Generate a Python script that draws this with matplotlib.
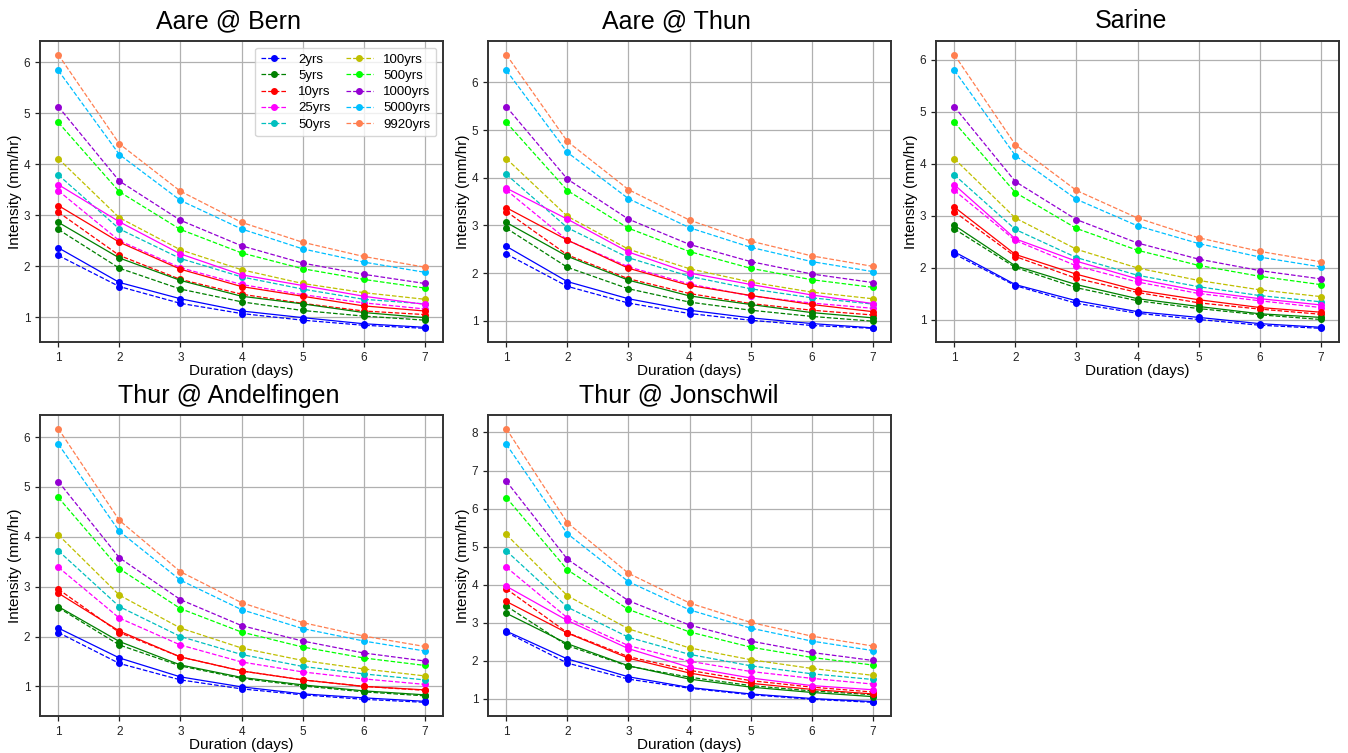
import matplotlib
matplotlib.use("Agg")
import matplotlib.pyplot as plt
import numpy as np

plt.rcParams['font.family'] = ['Liberation Sans', 'DejaVu Sans']

durations = [1, 2, 3, 4, 5, 6, 7]
periods = ["2yrs", "5yrs", "10yrs", "25yrs", "50yrs", "100yrs", "500yrs", "1000yrs", "5000yrs", "9920yrs"]
colors = ["blue", "green", "red", "magenta", "c", "y", "lime", "darkviolet", "deepskyblue", "coral"]
stations = ["Aare @ Bern", "Aare @ Thun", "Sarine", "Thur @ Andelfingen", "Thur @ Jonschwil"]

# dashed series (fitted), per station, per return period
bern_dashed = [
    [2.21, 1.60, 1.27, 1.07, 0.94, 0.84, 0.78],
    [2.72, 1.96, 1.55, 1.30, 1.13, 1.02, 0.94],
    [3.06, 2.21, 1.74, 1.45, 1.27, 1.12, 1.05],
    [3.48, 2.50, 1.97, 1.64, 1.44, 1.28, 1.16],
    [3.79, 2.73, 2.15, 1.79, 1.55, 1.35, 1.26],
    [4.11, 2.95, 2.32, 1.93, 1.66, 1.48, 1.35],
    [4.82, 3.46, 2.72, 2.26, 1.95, 1.74, 1.57],
    [5.13, 3.67, 2.90, 2.40, 2.06, 1.84, 1.66],
    [5.84, 4.19, 3.29, 2.73, 2.34, 2.08, 1.88],
    [6.15, 4.40, 3.47, 2.86, 2.47, 2.19, 1.98],
]
thun_dashed = [
    [2.40, 1.72, 1.37, 1.15, 1.01, 0.90, 0.84],
    [2.94, 2.12, 1.67, 1.39, 1.22, 1.09, 0.99],
    [3.29, 2.38, 1.88, 1.57, 1.36, 1.22, 1.12],
    [3.74, 2.69, 2.13, 1.77, 1.52, 1.37, 1.26],
    [4.07, 2.95, 2.32, 1.93, 1.67, 1.48, 1.35],
    [4.40, 3.19, 2.50, 2.09, 1.81, 1.60, 1.46],
    [5.16, 3.73, 2.94, 2.45, 2.10, 1.86, 1.70],
    [5.49, 3.97, 3.13, 2.60, 2.24, 1.98, 1.80],
    [6.25, 4.53, 3.56, 2.95, 2.54, 2.24, 2.03],
    [6.58, 4.76, 3.75, 3.11, 2.67, 2.36, 2.14],
]
sarine_dashed = [
    [2.27, 1.66, 1.32, 1.13, 1.01, 0.90, 0.84],
    [2.75, 2.01, 1.62, 1.37, 1.22, 1.10, 1.01],
    [3.08, 2.22, 1.80, 1.53, 1.33, 1.21, 1.11],
    [3.49, 2.53, 2.04, 1.73, 1.51, 1.37, 1.24],
    [3.79, 2.74, 2.20, 1.86, 1.64, 1.47, 1.35],
    [4.10, 2.96, 2.36, 2.00, 1.76, 1.58, 1.45],
    [4.80, 3.45, 2.76, 2.34, 2.05, 1.84, 1.68],
    [5.10, 3.66, 2.93, 2.48, 2.17, 1.95, 1.79],
    [5.80, 4.16, 3.32, 2.81, 2.47, 2.21, 2.02],
    [6.10, 4.37, 3.49, 2.96, 2.58, 2.32, 2.12],
]
andelfingen_dashed = [
    [2.08, 1.46, 1.13, 0.95, 0.83, 0.74, 0.68],
    [2.58, 1.83, 1.41, 1.16, 1.01, 0.89, 0.81],
    [2.95, 2.08, 1.59, 1.31, 1.13, 1.00, 0.92],
    [3.39, 2.37, 1.83, 1.49, 1.29, 1.15, 1.04],
    [3.72, 2.60, 2.00, 1.64, 1.40, 1.25, 1.13],
    [4.04, 2.83, 2.17, 1.77, 1.52, 1.35, 1.21],
    [4.79, 3.36, 2.56, 2.09, 1.79, 1.57, 1.42],
    [5.11, 3.58, 2.74, 2.22, 1.91, 1.67, 1.51],
    [5.86, 4.11, 3.13, 2.54, 2.16, 1.91, 1.71],
    [6.17, 4.33, 3.30, 2.68, 2.28, 2.01, 1.80],
]
jonschwil_dashed = [
    [2.75, 1.94, 1.52, 1.28, 1.11, 0.99, 0.91],
    [3.44, 2.40, 1.86, 1.57, 1.35, 1.21, 1.11],
    [3.89, 2.74, 2.11, 1.75, 1.48, 1.31, 1.18],
    [4.46, 3.13, 2.40, 1.99, 1.72, 1.54, 1.39],
    [4.89, 3.41, 2.62, 2.17, 1.87, 1.66, 1.51],
    [5.32, 3.71, 2.84, 2.34, 2.03, 1.80, 1.62],
    [6.29, 4.39, 3.35, 2.76, 2.36, 2.09, 1.89],
    [6.72, 4.67, 3.58, 2.94, 2.52, 2.22, 2.01],
    [7.69, 5.34, 4.08, 3.34, 2.86, 2.52, 2.27],
    [8.10, 5.63, 4.30, 3.52, 3.01, 2.65, 2.39],
]

# solid series (empirical) for the lowest return periods: 2, 5, 10, 25 yrs
bern_solid = [
    [2.36, 1.68, 1.36, 1.12, 0.99, 0.87, 0.80],
    [2.86, 2.16, 1.72, 1.41, 1.26, 1.09, 0.99],
    [3.19, 2.47, 1.94, 1.60, 1.41, 1.22, 1.12],
    [3.60, 2.87, 2.24, 1.83, 1.62, 1.41, 1.25],
]
thun_solid = [
    [2.56, 1.82, 1.46, 1.22, 1.06, 0.94, 0.85],
    [3.06, 2.35, 1.85, 1.52, 1.34, 1.17, 1.06],
    [3.37, 2.69, 2.10, 1.74, 1.53, 1.34, 1.19],
    [3.78, 3.13, 2.44, 2.00, 1.76, 1.54, 1.36],
]
sarine_solid = [
    [2.31, 1.68, 1.37, 1.16, 1.05, 0.93, 0.86],
    [2.82, 2.04, 1.68, 1.41, 1.26, 1.12, 1.05],
    [3.17, 2.26, 1.88, 1.57, 1.39, 1.24, 1.15],
    [3.60, 2.56, 2.13, 1.79, 1.56, 1.41, 1.29],
]
andelfingen_solid = [
    [2.17, 1.57, 1.19, 0.99, 0.85, 0.77, 0.70],
    [2.60, 1.90, 1.43, 1.18, 1.03, 0.91, 0.83],
    [2.87, 2.11, 1.59, 1.31, 1.13, 1.00, 0.93],
]
jonschwil_solid = [
    [2.78, 2.05, 1.58, 1.30, 1.13, 1.01, 0.93],
    [3.25, 2.45, 1.87, 1.52, 1.31, 1.17, 1.06],
    [3.56, 2.73, 2.07, 1.68, 1.41, 1.25, 1.13],
    [3.96, 3.06, 2.32, 1.83, 1.55, 1.35, 1.24],
]

dashed_all = [bern_dashed, thun_dashed, sarine_dashed, andelfingen_dashed, jonschwil_dashed]
solid_all = [bern_solid, thun_solid, sarine_solid, andelfingen_solid, jonschwil_solid]

W, H = 1348, 753
fig = plt.figure(figsize=(W / 100, H / 100), dpi=100)

col_left = [40, 488, 936]
row_top = [41, 415]
aw, ah = 403, 301
title_x = [0.468, 0.468, 0.483, 0.468, 0.472]

for i, name in enumerate(stations):
    r, c = divmod(i, 3)
    left = col_left[c] / W
    bottom = 1 - (row_top[r] + ah) / H
    ax = fig.add_axes([left, bottom, aw / W, ah / H])
    ax.set_axisbelow(True)
    ax.grid(True, color='#b0b0b0', linewidth=0.9)
    for k, vals in enumerate(dashed_all[i]):
        ax.plot(durations, vals, linestyle='--', marker='o', markersize=4,
                linewidth=0.9, color=colors[k], label=periods[k])
    for k, vals in enumerate(solid_all[i]):
        ax.plot(durations, vals, linestyle='-', marker='o', markersize=4,
                linewidth=0.9, color=colors[k])
    ax.set_title(name, fontsize=18, pad=9, x=title_x[i])
    ax.set_xlabel("Duration (days)", fontsize=11, labelpad=0)
    ax.set_ylabel("Intensity (mm/hr)", fontsize=11, labelpad=1)
    ax.set_xticks(durations)
    ax.tick_params(labelsize=8.5, length=3.5, width=0.9, colors='#222222')
    for s in ax.spines.values():
        s.set_color('#333333')
        s.set_linewidth(1.4)
    if i == 0:
        ax.legend(ncol=2, fontsize=9.5, loc='upper right', handlelength=2.0,
                  columnspacing=1.2, labelspacing=0.3, borderpad=0.45,
                  framealpha=0.8, edgecolor='#cccccc')

fig.savefig("out.png", dpi=100)
